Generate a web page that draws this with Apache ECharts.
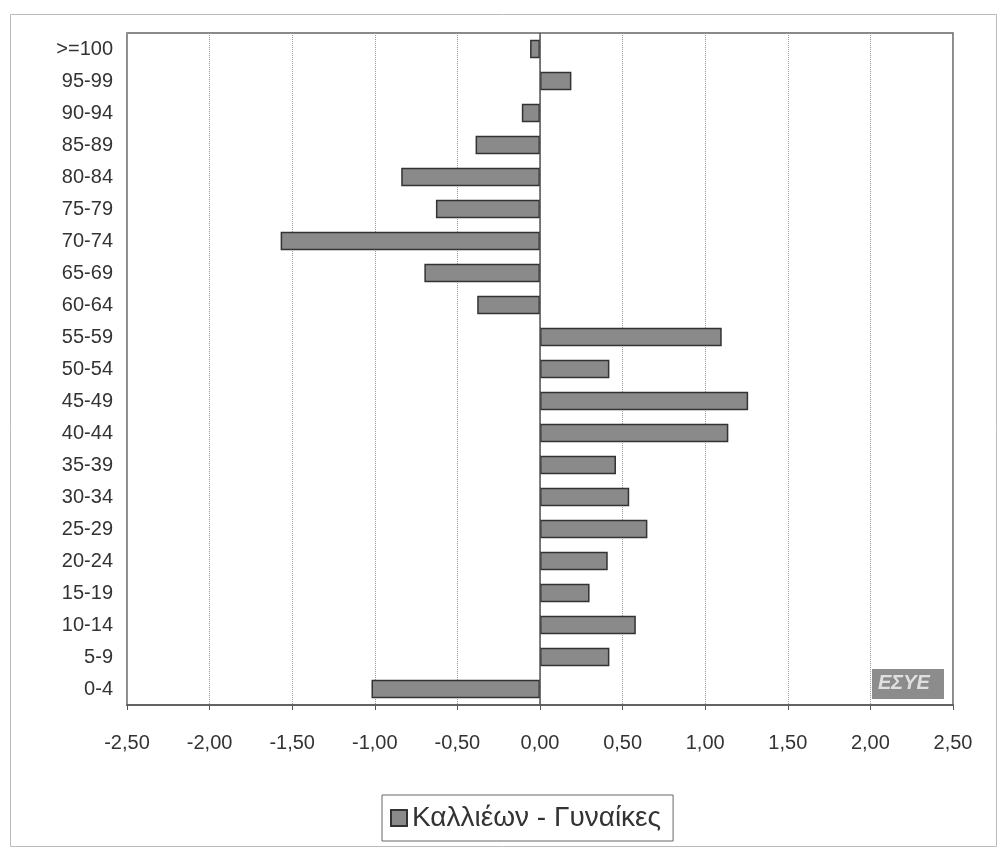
<!DOCTYPE html>
<html>
<head>
<meta charset="utf-8">
<script src="https://cdn.jsdelivr.net/npm/echarts@6/dist/echarts.min.js"></script>
<style>
  html, body { margin: 0; padding: 0; background: #fff; }
  #chart { width: 1001px; height: 849px; }
</style>
</head>
<body>
<div id="chart"></div>
<script>
// age groups, bottom to top
const categories = ['0-4', '5-9', '10-14', '15-19', '20-24', '25-29', '30-34', '35-39', '40-44', '45-49',
  '50-54', '55-59', '60-64', '65-69', '70-74', '75-79', '80-84', '85-89', '90-94', '95-99', '>=100'];
const values = [-1.02, 0.42, 0.58, 0.30, 0.41, 0.65, 0.54, 0.46, 1.14, 1.26,
  0.42, 1.10, -0.38, -0.70, -1.57, -0.63, -0.84, -0.39, -0.11, 0.19, -0.06];
const seriesName = 'Καλλιέων - Γυναίκες';
const xTicks = [-2.5, -2, -1.5, -1, -0.5, 0, 0.5, 1, 1.5, 2, 2.5];

const chart = echarts.init(document.getElementById('chart'));

const fmt = v => v.toFixed(2).replace('.', ',');

chart.setOption({
  animation: false,
  textStyle: { fontFamily: 'Liberation Sans, Arial, sans-serif' },
  grid: {
    left: 127, right: 48, top: 33, bottom: 144,
    show: true, borderColor: '#666', borderWidth: 1.5
  },
  xAxis: {
    type: 'value',
    min: xTicks[0], max: xTicks[xTicks.length - 1], interval: 0.5,
    axisLine: { show: true, lineStyle: { color: '#555', width: 1.5 } },
    axisTick: { show: true, length: 5, lineStyle: { color: '#555' } },
    axisLabel: { formatter: fmt, fontSize: 20, color: '#333', margin: 28 },
    splitLine: { show: true, lineStyle: { color: '#999', type: 'dotted', width: 1 } }
  },
  yAxis: {
    type: 'category',
    data: categories,
    axisLine: { show: false },
    axisTick: { show: false },
    axisLabel: { fontSize: 20, color: '#333', margin: 14 },
    splitLine: { show: false }
  },
  legend: {
    top: 795, left: 382,
    data: [seriesName],
    icon: 'rect',
    itemWidth: 16, itemHeight: 16,
    itemGap: 5,
    padding: [9, 12, 9, 8],
    borderColor: '#666', borderWidth: 1,
    textStyle: { fontSize: 28, color: '#333' }
  },
  series: [{
    name: seriesName,
    type: 'bar',
    data: values,
    barWidth: '58%',
    itemStyle: { color: '#8a8a8a', borderColor: '#333', borderWidth: 1.5 },
    markLine: {
      silent: true,
      symbol: 'none',
      label: { show: false },
      lineStyle: { color: '#555', type: 'solid', width: 1.5 },
      data: [{ xAxis: 0 }]
    }
  }],
  graphic: [
    {
      type: 'rect', left: 8, top: 12,
      shape: { width: 986, height: 832 },
      style: { fill: 'none', stroke: '#bbb', lineWidth: 1 }
    },
    {
      type: 'group', left: 872, top: 669,
      children: [
        { type: 'rect', shape: { width: 72, height: 30 }, style: { fill: '#8c8c8c' } },
        {
          type: 'text', left: 6, top: 4,
          style: { text: 'ΕΣΥΕ', fill: '#e0e0e0', fontSize: 20, fontWeight: 'bold', fontStyle: 'italic' }
        }
      ]
    }
  ]
});
</script>
</body>
</html>
